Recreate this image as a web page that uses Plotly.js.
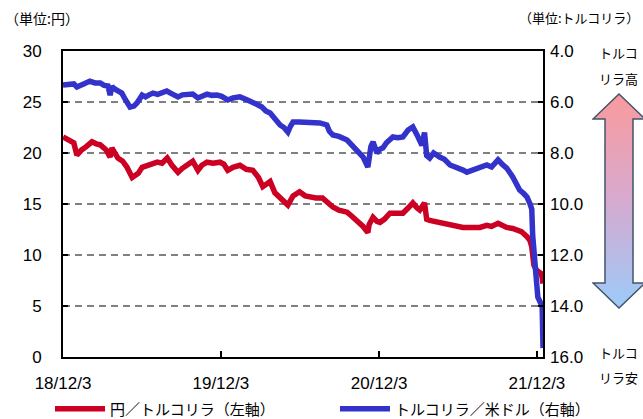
<!DOCTYPE html>
<html>
<head>
<meta charset="utf-8">
<script src="https://cdn.plot.ly/plotly-3.0.1.min.js"></script>
<style>html,body{margin:0;padding:0;background:#fff;}#chart{width:643px;height:419px;}</style>
</head>
<body>
<div id="chart"></div>
<script>
// ---- data ----
const usdDates = ['2018-12-03','2018-12-12','2018-12-19','2018-12-28','2019-01-04','2019-01-10','2019-01-21','2019-02-03','2019-02-15','2019-02-27','2019-03-08','2019-03-17','2019-03-22','2019-03-26','2019-03-29','2019-04-08','2019-04-18','2019-04-26','2019-05-07','2019-05-16','2019-05-23','2019-06-04','2019-06-12','2019-06-20','2019-06-29','2019-07-10','2019-07-20','2019-07-31','2019-08-12','2019-08-26','2019-09-05','2019-09-16','2019-09-29','2019-10-11','2019-10-20','2019-11-01','2019-11-12','2019-11-24','2019-12-05','2019-12-19','2019-12-31','2020-01-16','2020-01-31','2020-02-15','2020-02-25','2020-03-07','2020-03-16','2020-03-26','2020-04-06','2020-04-18','2020-04-27','2020-05-06','2020-05-12','2020-05-18','2020-06-01','2020-06-10','2020-06-25','2020-07-10','2020-07-19','2020-08-04','2020-08-10','2020-08-18','2020-09-01','2020-09-20','2020-10-01','2020-10-13','2020-10-27','2020-11-07','2020-11-10','2020-11-14','2020-11-19','2020-11-28','2020-12-05','2020-12-12','2020-12-20','2020-12-28','2021-01-04','2021-01-15','2021-01-27','2021-02-08','2021-02-19','2021-03-01','2021-03-05','2021-03-12','2021-03-18','2021-03-23','2021-03-30','2021-04-08','2021-04-22','2021-05-03','2021-05-16','2021-06-01','2021-06-15','2021-06-24','2021-07-08','2021-07-24','2021-08-09','2021-08-20','2021-09-04','2021-09-14','2021-09-24','2021-10-08','2021-10-17','2021-10-24','2021-11-03','2021-11-10','2021-11-17','2021-11-21','2021-11-23','2021-11-26','2021-11-28','2021-12-01','2021-12-05','2021-12-12','2021-12-15','2021-12-17'];
const tryPerUsd = [5.33,5.30,5.29,5.29,5.41,5.38,5.28,5.18,5.25,5.25,5.35,5.37,5.73,5.38,5.45,5.55,5.65,5.90,6.20,6.16,6.04,5.73,5.80,5.72,5.65,5.70,5.62,5.57,5.68,5.80,5.72,5.70,5.69,5.84,5.75,5.69,5.74,5.73,5.78,5.92,5.84,5.80,5.90,6.00,6.10,6.20,6.35,6.43,6.70,6.90,7.00,7.18,6.95,6.78,6.78,6.78,6.80,6.82,6.82,6.90,7.15,7.29,7.35,7.49,7.70,7.88,8.16,8.55,8.00,7.75,7.57,8.00,7.85,7.80,7.60,7.49,7.37,7.40,7.37,7.10,6.98,7.30,7.45,7.70,7.20,8.10,8.20,8.00,8.16,8.25,8.47,8.55,8.67,8.75,8.65,8.59,8.47,8.55,8.27,8.45,8.59,8.94,9.20,9.45,9.60,9.73,10.00,10.20,11.20,11.90,12.70,13.30,13.65,13.90,14.00,15.65];

const jpyDates = ['2018-12-03','2018-12-12','2018-12-19','2018-12-28','2019-01-04','2019-01-10','2019-01-15','2019-01-25','2019-02-08','2019-02-18','2019-02-27','2019-03-13','2019-03-22','2019-03-26','2019-04-09','2019-04-20','2019-04-30','2019-05-12','2019-05-26','2019-06-04','2019-06-20','2019-07-09','2019-07-20','2019-08-01','2019-08-12','2019-08-26','2019-09-05','2019-09-16','2019-09-29','2019-10-11','2019-10-20','2019-11-01','2019-11-15','2019-12-01','2019-12-10','2019-12-19','2019-12-31','2020-01-16','2020-01-31','2020-02-15','2020-02-28','2020-03-09','2020-03-18','2020-03-26','2020-04-06','2020-04-20','2020-05-06','2020-05-18','2020-06-02','2020-06-15','2020-06-25','2020-07-10','2020-07-25','2020-08-05','2020-08-18','2020-09-01','2020-09-20','2020-10-01','2020-10-13','2020-10-27','2020-11-07','2020-11-10','2020-11-19','2020-11-28','2020-12-05','2020-12-15','2020-12-28','2021-01-04','2021-01-15','2021-01-27','2021-02-08','2021-02-19','2021-03-01','2021-03-07','2021-03-18','2021-03-23','2021-03-30','2021-04-10','2021-04-22','2021-05-05','2021-05-16','2021-06-01','2021-06-15','2021-07-05','2021-07-24','2021-08-09','2021-08-20','2021-09-04','2021-09-14','2021-09-24','2021-10-08','2021-10-17','2021-10-28','2021-11-10','2021-11-17','2021-11-21','2021-11-23','2021-11-26','2021-12-02','2021-12-08','2021-12-12','2021-12-15','2021-12-17'];
const jpyPerTry = [21.57,21.4,21.27,21.0,19.8,20.1,20.3,20.6,21.1,20.9,20.8,20.3,19.6,20.5,19.5,19.2,18.6,17.6,18.0,18.6,18.8,19.1,19.0,19.5,18.8,18.1,18.5,18.8,19.2,18.3,18.8,19.1,19.0,19.1,18.9,18.3,18.6,18.8,18.4,18.3,17.6,16.7,17.0,17.2,16.1,15.6,14.9,15.8,16.2,15.8,15.7,15.6,15.6,15.2,14.7,14.4,14.2,13.8,13.4,12.8,12.2,13.0,13.7,13.3,13.2,13.5,14.1,14.1,14.0,14.1,14.6,15.1,14.6,14.4,15.1,13.5,13.4,13.3,13.1,13.0,12.9,12.8,12.7,12.7,12.7,12.9,12.8,13.1,12.9,12.7,12.6,12.5,12.3,11.8,11.4,10.8,9.6,9.0,8.5,8.3,8.2,7.8,7.2];

const xTickVals = ['2018-12-03','2019-12-03','2020-12-03','2021-12-03'];
const xTickText = ['18/12/3','19/12/3','20/12/3','21/12/3'];
const leftTicks = [0,5,10,15,20,25,30];
const rightTicks = [4,6,8,10,12,14,16];
const seriesNames = ['円／トルコリラ（左軸）','トルコリラ／米ドル（右軸）'];

// ---- geometry helpers (plot area: x 63..543, y 51..357) ----
const W = 643, H = 419;
const PL = 63, PR = 543, PT = 51, PB = 357;
const px = x => (x - PL) / (PR - PL);
const py = y => (PB - y) / (PB - PT);

const FONT = 'Liberation Sans, Arial, Noto Sans CJK JP, sans-serif';
const JFONT = 'Noto Sans CJK JP, sans-serif';

const traces = [
  {x: jpyDates, y: jpyPerTry, name: seriesNames[0], type: 'scatter', mode: 'lines',
   line: {color: '#CC0022', width: 5.5}, yaxis: 'y', legend: 'legend'},
  {x: usdDates, y: tryPerUsd, name: seriesNames[1], type: 'scatter', mode: 'lines',
   line: {color: '#3333CC', width: 5.5}, yaxis: 'y2', legend: 'legend2'}
];

const svg = '<svg xmlns="http://www.w3.org/2000/svg" width="54" height="216" viewBox="0 0 54 216">' +
  '<defs><linearGradient id="g" x1="0" y1="0" x2="0" y2="1">' +
  '<stop offset="0" stop-color="#FA9A9C"/><stop offset="0.5" stop-color="#D6AAD0"/><stop offset="1" stop-color="#9CCBFA"/>' +
  '</linearGradient></defs>' +
  '<path d="M27,1 L53,26 L41,26 L41,190 L53,190 L27,215 L1,190 L13,190 L13,26 L1,26 Z" fill="url(#g)" stroke="#44546A" stroke-width="1.5"/></svg>';

const ann = (text, x, y, size, xanchor) => ({
  text: text, xref: 'paper', yref: 'paper', x: px(x), y: py(y), showarrow: false,
  xanchor: xanchor || 'center', yanchor: 'middle', font: {family: JFONT, size: size, color: '#000'}
});

const legendBase = (x) => ({orientation: 'h', xref: 'container', yref: 'container', x: x / W, y: 1 - 409 / H,
  xanchor: 'left', yanchor: 'middle', font: {family: JFONT, size: 15, color: '#000'},
  itemwidth: 50, bgcolor: 'rgba(0,0,0,0)'});

const layout = {
  width: W, height: H,
  margin: {l: PL, r: W - PR, t: PT, b: H - PB, autoexpand: false},
  paper_bgcolor: '#fff', plot_bgcolor: '#fff',
  showlegend: true,
  legend: legendBase(50),
  legend2: legendBase(335),
  xaxis: {type: 'date', range: ['2018-12-03', '2021-12-17'], tickvals: xTickVals, ticktext: xTickText,
    showgrid: false, zeroline: false, showline: true, mirror: true, linecolor: '#000', linewidth: 2,
    ticks: 'inside', ticklen: 6, tickwidth: 1.5, tickcolor: '#000', ticklabelstandoff: 10,
    tickfont: {family: FONT, size: 17, color: '#000'}},
  yaxis: {range: [0, 30], tickvals: leftTicks, showgrid: true, gridcolor: '#808080', gridwidth: 1.5,
    griddash: '7px,5px', zeroline: false, showline: true, mirror: true, linecolor: '#000', linewidth: 2,
    ticks: 'inside', ticklen: 5, tickwidth: 1.5, tickcolor: '#000', ticklabelstandoff: 16,
    tickfont: {family: FONT, size: 17, color: '#000'}},
  yaxis2: {range: [16, 4], tickvals: rightTicks, tickformat: '.1f', overlaying: 'y', side: 'right',
    showgrid: false, zeroline: false, showline: false, ticks: 'inside', ticklen: 5, tickwidth: 1.5,
    tickcolor: '#000', ticklabelstandoff: 6, tickfont: {family: FONT, size: 17, color: '#000'}},
  annotations: [
    ann('（単位:円）', 3, 18, 14, 'left'),
    ann('（単位:トルコリラ）', 641, 18, 13, 'right'),
    ann('トルコ', 618, 53, 13), ann('リラ高', 618, 78, 13),
    ann('トルコ', 618, 352, 13), ann('リラ安', 618, 377, 13)
  ],
  images: [{source: 'data:image/svg+xml;charset=utf-8,' + encodeURIComponent(svg),
    xref: 'paper', yref: 'paper', x: px(592), y: py(93), sizex: 54 / (PR - PL), sizey: 216 / (PB - PT),
    xanchor: 'left', yanchor: 'top', sizing: 'stretch', layer: 'above'}]
};

Plotly.newPlot('chart', traces, layout, {staticPlot: true, displayModeBar: false});
</script>
</body>
</html>
